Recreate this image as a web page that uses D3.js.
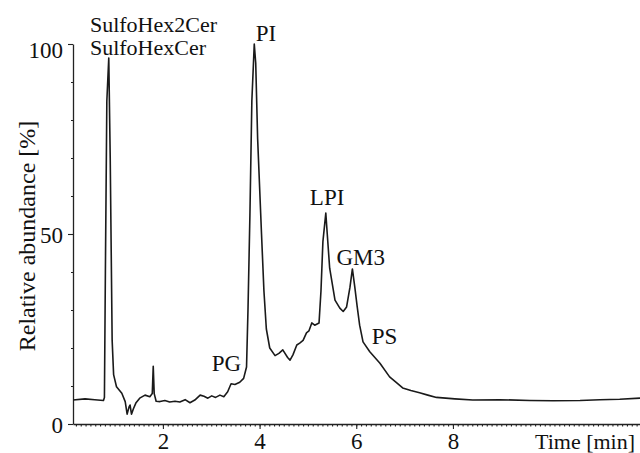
<!DOCTYPE html>
<html>
<head>
<meta charset="utf-8">
<style>
  body { margin: 0; background: #fff; }
  svg text { font-family: "Liberation Serif", "Times New Roman", Times, serif; fill: #111; }
</style>
</head>
<body>
<svg width="640" height="453"></svg>
<script src="https://d3js.org/d3.v7.min.js"></script>
<script>
    // retention time [min] and relative abundance [%]
    var time = [0.14, 0.39, 0.59, 0.77, 0.79, 0.81, 0.84, 0.88, 0.91, 0.95, 0.98, 1.04, 1.15, 1.22,
        1.26, 1.30, 1.32, 1.35, 1.39, 1.44, 1.52, 1.63, 1.73, 1.78, 1.80, 1.82, 1.86, 1.94, 2.04,
        2.14, 2.25, 2.35, 2.46, 2.56, 2.66, 2.77, 2.85, 2.93, 3.01, 3.09, 3.18, 3.26, 3.34, 3.41,
        3.49, 3.59, 3.67, 3.73, 3.76, 3.80, 3.84, 3.89, 3.92, 3.96, 4.04, 4.09, 4.14, 4.21, 4.32,
        4.40, 4.48, 4.58, 4.63, 4.69, 4.77, 4.83, 4.90, 4.97, 5.02, 5.08, 5.14, 5.23, 5.27, 5.31,
        5.37, 5.40, 5.45, 5.56, 5.66, 5.73, 5.80, 5.87, 5.92, 5.97, 6.02, 6.07, 6.14, 6.28, 6.49,
        6.69, 6.82, 6.96, 7.13, 7.31, 7.48, 7.66, 8.04, 8.41, 8.97, 9.59, 10.07, 10.63, 11.04,
        11.45, 11.87];
    var abundance = [6.3, 6.6, 6.4, 6.2, 7, 40, 85, 96.3, 70, 22, 13, 9.8, 8.1, 5.9,
        2.6, 4.5, 5.0, 2.6, 4.0, 5.5, 6.8, 7.6, 7.2, 8.0, 15.2, 8.0, 6.0, 5.9, 6.2,
        5.8, 6.0, 5.8, 6.4, 5.6, 6.3, 7.6, 7.3, 6.8, 7.4, 7.0, 7.6, 7.2, 8.5, 10.6,
        10.4, 11.0, 12.0, 15, 30, 55, 85, 100, 95, 75, 50, 35, 25, 20, 18,
        18.6, 19.5, 17.5, 16.8, 18.2, 20.8, 21.3, 22, 24, 24.5, 26.6, 26, 26.6, 35, 48,
        55.5, 50, 41, 32.6, 30.5, 29.6, 30.8, 36, 40.8, 36, 30.8, 26, 21.6, 19, 16,
        12.4, 11.0, 9.5, 8.8, 8.2, 7.6, 7.0, 6.6, 6.3, 6.4, 6.2, 6.1, 6.2, 6.4,
        6.5, 6.8];

    // peak annotations: text, time of left edge, abundance at the baseline
    var peakNames = ["SulfoHex2Cer", "SulfoHexCer", "PI", "PG", "LPI", "GM3", "PS"];
    var peakTime = [0.49, 0.49, 3.92, 3.01, 5.04, 5.59, 6.32];
    var peakLevel = [103.2, 97.1, 100.8, 14, 57.6, 41.8, 21];

    var xMajor = [2, 4, 6, 8];
    var yMajor = [0, 50, 100];
    var yMinor = [10, 20, 30, 40, 60, 70, 80, 90];

    var svg = d3.select("svg");

    var x = d3.scaleLinear().domain([0.14, 11.87]).range([73, 640]);
    var y = d3.scaleLinear().domain([0, 100]).range([424, 44]);

    var xMinor = d3.range(2, 119).map(function(d) { return d / 10; });

    function styleAxis(g) {
        g.selectAll("line").attr("stroke", "#222").attr("stroke-width", 1.1);
        g.select(".domain").attr("stroke", "#222").attr("stroke-width", 1.3);
        g.selectAll("text").attr("font-family", null).attr("font-size", 23).attr("fill", "#111");
    }

    // x axis: minor then major
    svg.append("g")
        .attr("transform", "translate(0,424)")
        .call(d3.axisBottom(x).tickValues(xMinor).tickSize(2.5).tickSizeOuter(0).tickFormat(""))
        .call(styleAxis);
    svg.append("g")
        .attr("transform", "translate(0,424)")
        .call(d3.axisBottom(x).tickValues(xMajor).tickSize(5).tickSizeOuter(0).tickPadding(4).tickFormat(d3.format("d")))
        .call(function(g) { g.select(".domain").remove(); })
        .call(styleAxis);

    // y axis
    svg.append("g")
        .attr("transform", "translate(73,0)")
        .call(d3.axisLeft(y).tickValues(yMinor).tickSize(2).tickSizeOuter(0).tickFormat(""))
        .call(styleAxis);
    svg.append("g")
        .attr("transform", "translate(73,0)")
        .call(d3.axisLeft(y).tickValues(yMajor).tickSize(5).tickSizeOuter(0).tickPadding(5).tickFormat(d3.format("d")))
        .call(function(g) { g.select(".domain").remove(); })
        .call(styleAxis)
        .call(function(g) {
            g.selectAll("text").attr("dy", function(d) { return d == 100 ? "0.6em" : "0.36em"; });
        });

    // axis titles
    svg.append("text")
        .attr("transform", "translate(35,236) rotate(-90)")
        .attr("text-anchor", "middle")
        .attr("font-size", 24)
        .text("Relative abundance [%]");
    svg.append("text")
        .attr("x", 535)
        .attr("y", 449)
        .attr("font-size", 22)
        .text("Time [min]");

    // trace
    var line = d3.line()
        .x(function(d, i) { return x(time[i]); })
        .y(function(d) { return y(d); })
        .curve(d3.curveLinear);

    svg.append("path")
        .attr("d", line(abundance))
        .attr("fill", "none")
        .attr("stroke", "#1a1a1a")
        .attr("stroke-width", 1.6)
        .attr("stroke-linejoin", "round");

    // peak labels
    svg.selectAll(".peak")
        .data(peakNames)
        .enter().append("text")
        .attr("class", "peak")
        .attr("x", function(d, i) { return x(peakTime[i]); })
        .attr("y", function(d, i) { return y(peakLevel[i]); })
        .attr("font-size", function(d, i) { return i < 2 ? 22 : 23; })
        .text(function(d) { return d; });
</script>
</body>
</html>
